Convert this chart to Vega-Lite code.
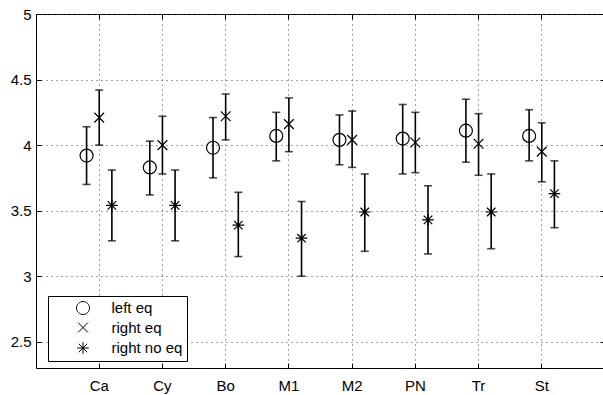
{
  "$schema": "https://vega.github.io/schema/vega-lite/v6.json",
  "width": 569,
  "height": 354,
  "autosize": {"type": "none"},
  "padding": {"left": 36, "top": 14, "right": 0, "bottom": 27},
  "background": "white",
  "config": {
    "font": "Liberation Sans",
    "view": {"stroke": "black", "strokeWidth": 1},
    "axis": {
      "labelFont": "Liberation Sans",
      "labelFontSize": 15,
      "labelColor": "black",
      "domain": false,
      "tickColor": "black",
      "tickWidth": 1,
      "gridColor": "#444",
      "gridWidth": 1,
      "gridDash": [1, 4],
      "title": null
    }
  },
  "data": {
    "values": [
      {"cat": "Ca", "series": "left eq", "mean": 3.92, "lo": 3.70, "hi": 4.14},
      {"cat": "Ca", "series": "right eq", "mean": 4.21, "lo": 4.00, "hi": 4.42},
      {"cat": "Ca", "series": "right no eq", "mean": 3.54, "lo": 3.27, "hi": 3.81},
      {"cat": "Cy", "series": "left eq", "mean": 3.83, "lo": 3.62, "hi": 4.03},
      {"cat": "Cy", "series": "right eq", "mean": 4.00, "lo": 3.78, "hi": 4.22},
      {"cat": "Cy", "series": "right no eq", "mean": 3.54, "lo": 3.27, "hi": 3.81},
      {"cat": "Bo", "series": "left eq", "mean": 3.98, "lo": 3.75, "hi": 4.21},
      {"cat": "Bo", "series": "right eq", "mean": 4.22, "lo": 4.04, "hi": 4.39},
      {"cat": "Bo", "series": "right no eq", "mean": 3.39, "lo": 3.15, "hi": 3.64},
      {"cat": "M1", "series": "left eq", "mean": 4.07, "lo": 3.88, "hi": 4.25},
      {"cat": "M1", "series": "right eq", "mean": 4.16, "lo": 3.95, "hi": 4.36},
      {"cat": "M1", "series": "right no eq", "mean": 3.29, "lo": 3.00, "hi": 3.57},
      {"cat": "M2", "series": "left eq", "mean": 4.04, "lo": 3.85, "hi": 4.23},
      {"cat": "M2", "series": "right eq", "mean": 4.04, "lo": 3.83, "hi": 4.26},
      {"cat": "M2", "series": "right no eq", "mean": 3.49, "lo": 3.19, "hi": 3.78},
      {"cat": "PN", "series": "left eq", "mean": 4.05, "lo": 3.78, "hi": 4.31},
      {"cat": "PN", "series": "right eq", "mean": 4.02, "lo": 3.79, "hi": 4.25},
      {"cat": "PN", "series": "right no eq", "mean": 3.43, "lo": 3.17, "hi": 3.69},
      {"cat": "Tr", "series": "left eq", "mean": 4.11, "lo": 3.87, "hi": 4.35},
      {"cat": "Tr", "series": "right eq", "mean": 4.01, "lo": 3.77, "hi": 4.24},
      {"cat": "Tr", "series": "right no eq", "mean": 3.49, "lo": 3.21, "hi": 3.78},
      {"cat": "St", "series": "left eq", "mean": 4.07, "lo": 3.88, "hi": 4.27},
      {"cat": "St", "series": "right eq", "mean": 3.95, "lo": 3.72, "hi": 4.17},
      {"cat": "St", "series": "right no eq", "mean": 3.63, "lo": 3.37, "hi": 3.88}
    ]
  },
  "resolve": {"axis": {"x": "independent", "y": "independent"}},
  "layer": [
    {
      "mark": {"type": "rule", "color": "black", "strokeWidth": 1.6},
      "encoding": {
        "x": {
          "field": "cat", "type": "nominal",
          "sort": ["Ca", "Cy", "Bo", "M1", "M2", "PN", "Tr", "St"],
          "scale": {"paddingInner": 0, "paddingOuter": 0.5},
          "axis": {"orient": "bottom", "grid": true, "tickSize": -5, "labelPadding": 15, "labelAngle": 0, "labelFontSize": 15}
        },
        "xOffset": {
          "field": "series", "type": "nominal",
          "sort": ["left eq", "right eq", "right no eq"],
          "scale": {"paddingInner": 0, "paddingOuter": 1.46}
        },
        "y": {
          "field": "lo", "type": "quantitative",
          "scale": {"domain": [2.3, 5], "nice": false, "zero": false},
          "axis": {"orient": "left", "grid": true, "values": [2.5, 3, 3.5, 4, 4.5, 5], "format": "~g", "tickSize": -5, "labelPadding": 10, "labelFontSize": 15}
        },
        "y2": {"field": "hi"}
      }
    },
    {
      "mark": {"type": "tick", "orient": "horizontal", "color": "black", "size": 8, "thickness": 1.6},
      "encoding": {
        "x": {
          "field": "cat", "type": "nominal",
          "sort": ["Ca", "Cy", "Bo", "M1", "M2", "PN", "Tr", "St"],
          "axis": {"orient": "top", "grid": false, "labels": false, "tickSize": -5}
        },
        "xOffset": {"field": "series", "type": "nominal", "sort": ["left eq", "right eq", "right no eq"]},
        "y": {
          "field": "lo", "type": "quantitative",
          "axis": {"orient": "right", "grid": false, "labels": false, "values": [2.5, 3, 3.5, 4, 4.5, 5], "tickSize": -5}
        }
      }
    },
    {
      "mark": {"type": "tick", "orient": "horizontal", "color": "black", "size": 8, "thickness": 1.6},
      "encoding": {
        "x": {"field": "cat", "type": "nominal", "sort": ["Ca", "Cy", "Bo", "M1", "M2", "PN", "Tr", "St"], "axis": null},
        "xOffset": {"field": "series", "type": "nominal", "sort": ["left eq", "right eq", "right no eq"]},
        "y": {"field": "hi", "type": "quantitative", "axis": null}
      }
    },
    {
      "mark": {"type": "point", "filled": false, "stroke": "black", "strokeWidth": 1.2, "size": 169, "opacity": 1},
      "encoding": {
        "x": {"field": "cat", "type": "nominal", "sort": ["Ca", "Cy", "Bo", "M1", "M2", "PN", "Tr", "St"], "axis": null},
        "xOffset": {"field": "series", "type": "nominal", "sort": ["left eq", "right eq", "right no eq"]},
        "y": {"field": "mean", "type": "quantitative", "axis": null},
        "shape": {
          "field": "series", "type": "nominal",
          "sort": ["left eq", "right eq", "right no eq"],
          "scale": {
            "domain": ["left eq", "right eq", "right no eq"],
            "range": [
              "M1,0A1,1,0,1,1,-1,0A1,1,0,1,1,1,0Z",
              "M-0.75,-0.75L0.75,0.75M-0.75,0.75L0.75,-0.75",
              "M-0.9,0L0.9,0M0,-0.9L0,0.9M-0.65,-0.65L0.65,0.65M-0.65,0.65L0.65,-0.65"
            ]
          },
          "legend": {
            "title": null,
            "orient": "none",
            "legendX": 12,
            "legendY": 282,
            "direction": "vertical",
            "strokeColor": "black",
            "fillColor": "white",
            "padding": 4.5,
            "rowPadding": 3.5,
            "symbolSize": 169,
            "symbolStrokeColor": "black",
            "symbolFillColor": "transparent",
            "symbolStrokeWidth": 1,
            "symbolOffset": 23,
            "labelOffset": 21,
            "labelFont": "Liberation Sans",
            "labelFontSize": 15,
            "labelColor": "black"
          }
        }
      }
    }
  ]
}
